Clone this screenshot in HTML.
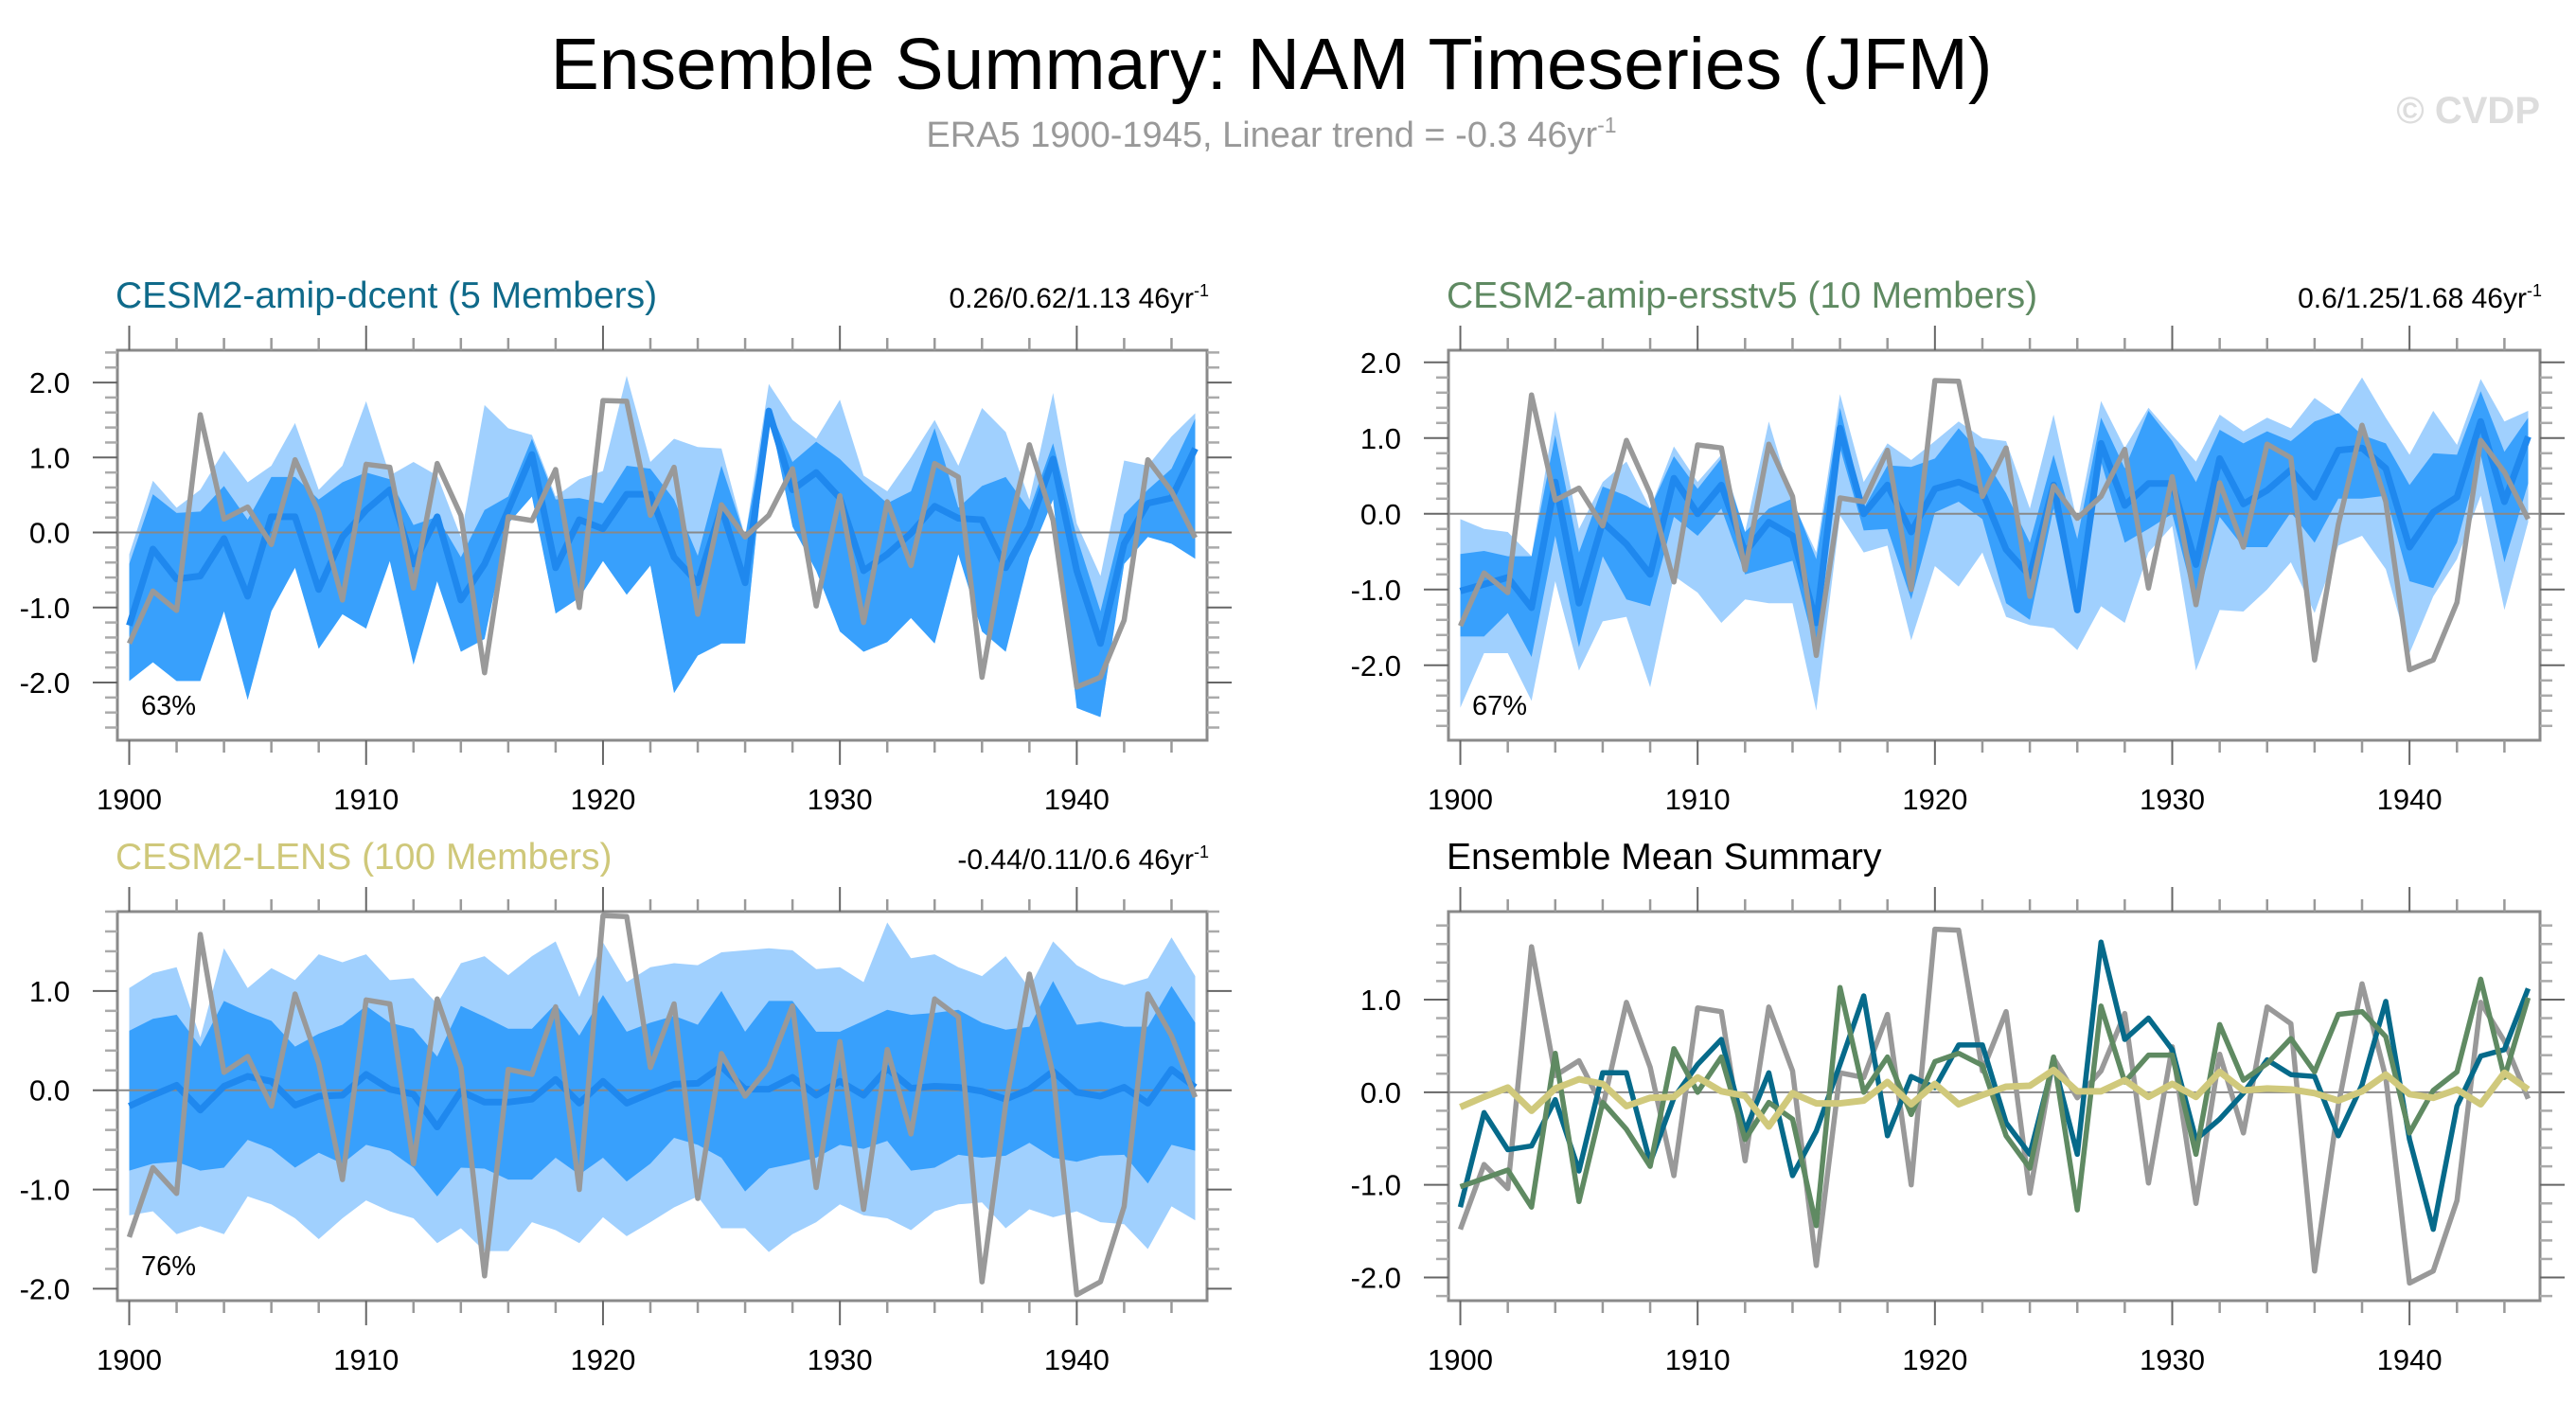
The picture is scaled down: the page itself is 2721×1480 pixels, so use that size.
<!DOCTYPE html>
<html><head><meta charset="utf-8"><style>
html,body{margin:0;padding:0;background:#fff;}
svg{display:block;font-family:"Liberation Sans",Arial,sans-serif;}
</style></head><body>
<svg id="fig" width="2721" height="1480" viewBox="0 0 2721 1480" xmlns="http://www.w3.org/2000/svg">
<text x="1343" y="94" font-size="77" text-anchor="middle" fill="#000">Ensemble Summary: NAM Timeseries (JFM)</text>
<text x="1343" y="155" font-size="38" text-anchor="middle" fill="#999">ERA5 1900-1945, Linear trend = -0.3 46yr<tspan dy="-15" font-size="23">-1</tspan></text>
<text x="2683" y="130" font-size="40" font-weight="bold" text-anchor="end" fill="#ddd">© CVDP</text>
</svg>
<script>
const years = [];
for (let y = 1900; y <= 1945; y++) years.push(y);
const era5 = [-1.48,-0.78,-1.04,1.57,0.18,0.34,-0.16,0.97,0.27,-0.90,0.91,0.87,-0.74,0.92,0.23,-1.87,0.21,0.16,0.84,-1.00,1.76,1.75,0.23,0.87,-1.09,0.37,-0.06,0.23,0.85,-0.98,0.49,-1.20,0.41,-0.44,0.92,0.74,-1.93,-0.14,1.17,0.16,-2.06,-1.93,-1.17,0.97,0.55,-0.07];
// CESM2-amip-dcent
const dcentMean = [-1.24,-0.22,-0.62,-0.58,-0.08,-0.85,0.21,0.21,-0.76,-0.06,0.30,0.57,-0.42,0.21,-0.90,-0.42,0.30,1.04,-0.47,0.17,0.05,0.51,0.51,-0.33,-0.67,0.33,-0.67,1.62,0.57,0.80,0.46,-0.51,-0.29,-0.01,0.35,0.19,0.17,-0.47,0.08,0.98,-0.51,-1.48,-0.15,0.39,0.46,1.12];
const dcentOuterHi = [-0.29,0.69,0.33,0.57,1.09,0.67,0.89,1.46,0.57,0.89,1.75,0.76,0.94,0.76,-0.06,1.70,1.39,1.30,0.48,0.71,0.82,2.09,0.94,1.25,1.14,1.12,-0.06,1.98,1.50,1.25,1.77,0.76,0.55,1.00,1.50,0.89,1.66,1.34,0.44,1.86,0.12,-0.58,0.96,0.89,1.28,1.59];
const dcentInnerHi = [-0.42,0.51,0.26,0.28,0.62,0.17,0.74,0.74,0.44,0.67,0.80,0.71,0.10,0.21,-0.33,0.30,0.48,1.25,0.44,0.46,0.39,0.89,0.85,0.44,-0.31,0.89,-0.06,1.66,0.94,1.21,0.98,0.67,0.39,0.55,1.39,0.33,0.62,0.74,0.30,1.19,-0.06,-1.05,0.24,0.57,0.85,1.52];
const dcentInnerLo = [-1.98,-1.73,-1.98,-1.98,-1.05,-2.23,-1.05,-0.47,-1.55,-1.09,-1.28,-0.38,-1.76,-0.65,-1.59,-1.42,0.12,0.48,-1.08,-0.87,-0.38,-0.83,-0.44,-2.14,-1.64,-1.48,-1.48,1.62,0.08,-0.51,-1.32,-1.59,-1.46,-1.14,-1.48,-0.29,-1.32,-1.59,-0.33,0.44,-2.34,-2.46,-0.42,-0.06,-0.15,-0.35];
const dcentOuterLo = dcentInnerLo;
// CESM2-amip-ersstv5
const ersstMean = [-1.02,-0.93,-0.84,-1.24,0.42,-1.18,-0.11,-0.40,-0.80,0.47,0.00,0.38,-0.51,-0.11,-0.29,-1.44,1.13,0.00,0.38,-0.24,0.33,0.42,0.29,-0.47,-0.82,0.38,-1.27,0.93,0.11,0.40,0.40,-0.67,0.73,0.13,0.31,0.58,0.22,0.84,0.87,0.60,-0.44,0.02,0.22,1.22,0.16,1.02];
const ersstOuterHi = [-0.07,-0.20,-0.24,-0.56,1.36,-0.20,0.42,0.69,0.07,0.89,0.42,0.78,-0.24,1.22,0.16,-0.51,1.58,0.42,0.93,0.71,0.96,1.22,1.00,0.96,0.07,1.31,-0.11,1.49,0.87,1.40,1.04,0.69,1.31,1.09,1.27,1.13,1.53,1.31,1.80,1.27,0.78,1.36,0.91,1.78,1.22,1.36];
const ersstInnerHi = [-0.53,-0.49,-0.56,-0.56,1.04,-0.51,0.36,0.24,0.07,0.76,0.33,0.73,-0.24,0.07,0.20,-0.60,1.40,0.07,0.64,0.62,0.73,1.13,0.78,0.27,-0.38,0.78,-0.33,1.27,0.60,1.36,0.96,0.42,1.11,0.93,1.09,0.96,1.22,1.33,1.04,0.93,0.38,0.80,0.78,1.62,0.82,1.27];
const ersstInnerLo = [-1.62,-1.62,-1.31,-1.89,-0.29,-1.76,-0.56,-1.13,-1.22,-0.04,-0.29,0.07,-0.80,-0.71,-0.62,-1.84,0.87,-0.22,-0.20,-1.13,0.02,0.16,-0.07,-1.18,-1.40,0.07,-1.31,0.69,-0.38,-0.20,0.00,-1.22,-0.04,-0.44,-0.44,0.02,-0.38,0.20,0.20,0.24,-0.89,-0.98,-0.38,0.78,-0.64,0.40];
const ersstOuterLo = [-2.56,-1.84,-1.84,-2.47,-0.89,-2.07,-1.42,-1.36,-2.29,-0.82,-1.04,-1.44,-1.13,-1.18,-1.18,-2.60,-0.02,-0.51,-0.42,-1.67,-0.69,-0.96,-0.51,-1.36,-1.47,-1.51,-1.80,-1.22,-1.44,-0.51,-0.16,-2.07,-1.27,-1.29,-1.00,-0.64,-1.31,-0.42,-0.29,-0.73,-1.84,-1.09,-0.60,0.24,-1.27,-0.11];
// CESM2-LENS
const lensMean = [-0.16,-0.05,0.05,-0.20,0.04,0.14,0.09,-0.15,-0.06,-0.05,0.16,0.01,-0.04,-0.37,-0.01,-0.12,-0.12,-0.09,0.11,-0.13,0.09,-0.13,-0.03,0.06,0.07,0.24,0.01,0.01,0.13,-0.05,0.09,-0.05,0.22,0.02,0.04,0.03,-0.01,-0.09,0.01,0.19,-0.02,-0.06,0.03,-0.13,0.21,0.03];
const lensOuterHi = [1.03,1.18,1.24,0.53,1.43,1.03,1.23,1.11,1.37,1.29,1.37,1.11,1.13,0.87,1.28,1.35,1.16,1.35,1.50,0.94,1.49,1.09,1.24,1.28,1.26,1.39,1.41,1.43,1.41,1.22,1.24,1.09,1.69,1.33,1.37,1.24,1.15,1.35,1.03,1.50,1.26,1.13,1.06,1.13,1.54,1.15];
const lensInnerHi = [0.60,0.72,0.76,0.44,0.90,0.79,0.70,0.44,0.57,0.66,0.85,0.68,0.62,0.34,0.85,0.74,0.62,0.62,0.87,0.55,0.96,0.59,0.68,0.75,0.66,1.00,0.59,0.90,0.90,0.59,0.59,0.70,0.81,0.76,0.78,0.81,0.68,0.61,0.64,1.10,0.66,0.69,0.64,0.64,1.05,0.68];
const lensInnerLo = [-0.81,-0.74,-0.72,-0.81,-0.78,-0.50,-0.59,-0.78,-0.63,-0.74,-0.55,-0.61,-0.78,-1.07,-0.78,-0.79,-0.90,-0.90,-0.68,-0.85,-0.68,-0.92,-0.74,-0.48,-0.55,-0.68,-1.02,-0.79,-0.74,-0.68,-0.55,-0.59,-0.51,-0.81,-0.78,-0.65,-0.68,-0.66,-0.53,-0.68,-0.72,-0.66,-0.65,-0.94,-0.55,-0.61];
const lensOuterLo = [-1.26,-1.22,-1.45,-1.37,-1.45,-1.07,-1.15,-1.29,-1.50,-1.29,-1.11,-1.22,-1.29,-1.54,-1.39,-1.62,-1.62,-1.33,-1.41,-1.54,-1.28,-1.47,-1.33,-1.18,-1.07,-1.39,-1.39,-1.63,-1.45,-1.33,-1.15,-1.26,-1.29,-1.41,-1.22,-1.15,-1.13,-1.39,-1.20,-1.28,-1.22,-1.33,-1.35,-1.60,-1.17,-1.31];
const yTickLabels = ["-2.0","-1.0","0.0","1.0","2.0"];
const xTickLabels = ["1900","1910","1920","1930","1940"];

const NS = "http://www.w3.org/2000/svg";
const svg = document.getElementById("fig");
function mk(tag, attrs, parent) {
  const e = document.createElementNS(NS, tag);
  for (const k in attrs) e.setAttribute(k, attrs[k]);
  (parent || svg).appendChild(e);
  return e;
}
function makePanel(p) {
  const g = mk("g", {});
  
  
  const xs = v => p.x0 + (v - 1899.5) / 46 * (p.x1 - p.x0);
  const ys = v => p.y0 + (p.ymax - v) / (p.ymax - p.ymin) * (p.y1 - p.y0);
  const clipId = "clip" + p.name;
  const cp = mk("clipPath", {id: clipId}, g);
  mk("rect", {x: p.x0, y: p.y0, width: p.x1 - p.x0, height: p.y1 - p.y0}, cp);
  const plot = mk("g", {"clip-path": "url(#" + clipId + ")"}, g);
  function band(hi, lo, color, nm) {
    let pts = years.map((yr, i) => xs(yr) + "," + ys(hi[i]));
    pts = pts.concat(years.map((yr, i) => xs(yr) + "," + ys(lo[i])).reverse());
    const e = mk("polygon", {points: pts.join(" "), fill: color}, plot);
    
    
  }
  function line(vals, color, w, nm) {
    const e = mk("polyline", {points: years.map((yr, i) => xs(yr) + "," + ys(vals[i])).join(" "), fill: "none", stroke: color, "stroke-width": w, "stroke-linejoin": "round"}, plot);
    
    
  }
  if (p.bands) {
    band(p.bands[0], p.bands[3], "#a0d0fe", "outer-spread-band");
    band(p.bands[1], p.bands[2], "#38a0fc", "inner-spread-band");
  }
  const z = mk("line", {x1: p.x0, x2: p.x1, y1: ys(0), y2: ys(0), stroke: "#888", "stroke-width": 2}, plot);
  
  
  p.lines.forEach(l => line(l.v, l.c, l.w, l.n));
  const bx = mk("rect", {x: p.x0, y: p.y0, width: p.x1 - p.x0, height: p.y1 - p.y0, fill: "none", stroke: "#8a8a8a", "stroke-width": 3}, g);
  
  
  for (let yr = 1900; yr <= 1945; yr += 2) {
    const maj = (yr % 10 === 0), x = xs(yr), L = maj ? 26 : 13;
    mk("line", {x1: x, x2: x, y1: p.y1, y2: p.y1 + L, stroke: maj ? "#666" : "#999", "stroke-width": maj ? 2 : 2.5}, g);
    mk("line", {x1: x, x2: x, y1: p.y0, y2: p.y0 - L, stroke: maj ? "#666" : "#999", "stroke-width": maj ? 2 : 2.5}, g);
  }
  xTickLabels.forEach(lab => {
    const t = mk("text", {x: xs(+lab), y: p.y1 + 73, "font-size": 31, "text-anchor": "middle", fill: "#000"}, g);
    t.textContent = lab;
    
    
  });
  for (let k = Math.ceil(p.ymin * 5); k <= Math.floor(p.ymax * 5); k++) {
    const v = k / 5, y = ys(v), maj = (k % 5 === 0), L = maj ? 26 : 13;
    mk("line", {x1: p.x0, x2: p.x0 - L, y1: y, y2: y, stroke: maj ? "#666" : "#aaa", "stroke-width": maj ? 2 : 2.5}, g);
    mk("line", {x1: p.x1, x2: p.x1 + L, y1: y, y2: y, stroke: maj ? "#666" : "#aaa", "stroke-width": maj ? 2 : 2.5}, g);
  }
  yTickLabels.forEach(lab => {
    const v = parseFloat(lab);
    if (v < p.ymin || v > p.ymax) return;
    const t = mk("text", {x: p.x0 - 50, y: ys(v) + 11, "font-size": 31, "text-anchor": "end", fill: "#000"}, g);
    t.textContent = lab;
    
    
  });
  const tt = mk("text", {x: p.x0 - 2, y: p.y0 - 45, "font-size": 39, fill: p.tcolor}, g);
  tt.textContent = p.title;
  
  
  if (p.trend) {
    const tr = mk("text", {x: p.x1 + 2, y: p.y0 - 45, "font-size": 30, "text-anchor": "end", fill: "#000"}, g);
    tr.innerHTML = p.trend + '<tspan dy="-12" font-size="18">-1</tspan>';
    
    
  }
  if (p.pct) {
    const pc = mk("text", {x: p.x0 + 25, y: p.y1 - 27, "font-size": 29, fill: "#000"}, g);
    pc.textContent = p.pct;
    
    
  }
}
makePanel({name: "panel-amip-dcent", x0: 124, x1: 1275, y0: 370, y1: 782, ymin: -2.77, ymax: 2.43,
  bands: [dcentOuterHi, dcentInnerHi, dcentInnerLo, dcentOuterLo],
  lines: [{v: dcentMean, c: "#1f88ee", w: 7, n: "ensemble-mean-line"}, {v: era5, c: "#999", w: 5.5, n: "era5-line"}],
  title: "CESM2-amip-dcent (5 Members)", tcolor: "#0f6a8a", trend: "0.26/0.62/1.13 46yr", pct: "63%"});
makePanel({name: "panel-amip-ersstv5", x0: 1530, x1: 2683, y0: 370, y1: 782, ymin: -2.99, ymax: 2.16,
  bands: [ersstOuterHi, ersstInnerHi, ersstInnerLo, ersstOuterLo],
  lines: [{v: ersstMean, c: "#1f88ee", w: 7, n: "ensemble-mean-line"}, {v: era5, c: "#999", w: 5.5, n: "era5-line"}],
  title: "CESM2-amip-ersstv5 (10 Members)", tcolor: "#5f8a62", trend: "0.6/1.25/1.68 46yr", pct: "67%"});
makePanel({name: "panel-lens", x0: 124, x1: 1275, y0: 963, y1: 1374, ymin: -2.12, ymax: 1.80,
  bands: [lensOuterHi, lensInnerHi, lensInnerLo, lensOuterLo],
  lines: [{v: lensMean, c: "#1f88ee", w: 7, n: "ensemble-mean-line"}, {v: era5, c: "#999", w: 5.5, n: "era5-line"}],
  title: "CESM2-LENS (100 Members)", tcolor: "#cfc87a", trend: "-0.44/0.11/0.6 46yr", pct: "76%"});
makePanel({name: "panel-ensemble-mean-summary", x0: 1530, x1: 2683, y0: 963, y1: 1374, ymin: -2.25, ymax: 1.95,
  bands: null,
  lines: [{v: era5, c: "#999", w: 5.5, n: "era5-line"}, {v: dcentMean, c: "#066a8a", w: 5.5, n: "amip-dcent-mean-line"},
          {v: ersstMean, c: "#5f8a62", w: 5.5, n: "amip-ersstv5-mean-line"}, {v: lensMean, c: "#d0c97c", w: 7, n: "lens-mean-line"}],
  title: "Ensemble Mean Summary", tcolor: "#000"});
</script>
</body></html>
